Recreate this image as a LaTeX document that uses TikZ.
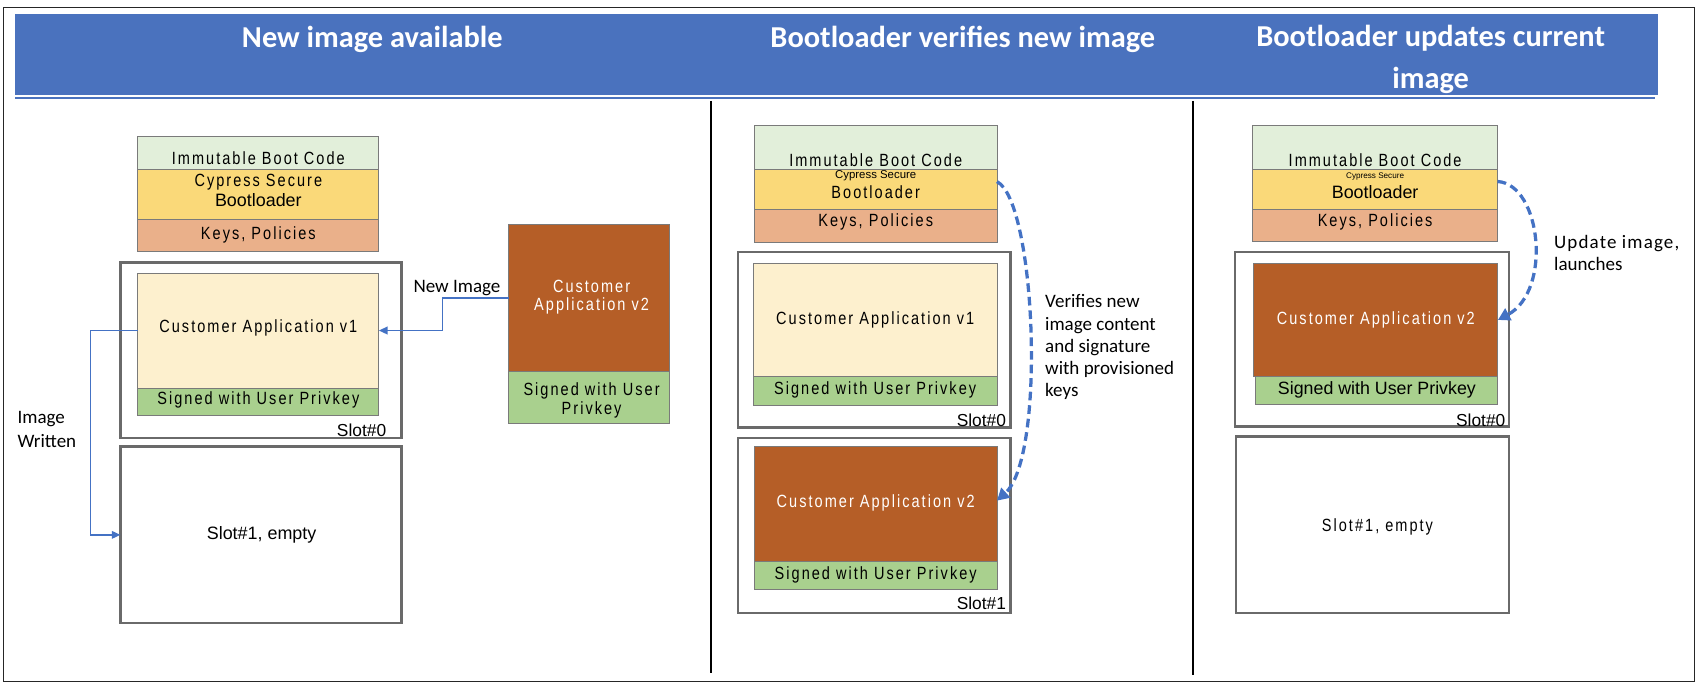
\documentclass[tikz,border=0pt]{standalone}
\usepackage{fontspec}
\usetikzlibrary{arrows.meta}
\newfontfamily\arnsp[FakeStretch=0.82,LetterSpace=11.5]{Liberation Sans}
\newfontfamily\arial{Liberation Sans}
\newfontfamily\calib{Carlito}
\newfontfamily\calibsp[LetterSpace=6]{Carlito}
\newcommand\fsz[2]{\fontsize{#1}{#2}\selectfont}
\newcommand\mybox[7]{\node[#6, minimum width={(#4-#2)*1pt}, minimum height={(#5-#3)*1pt}] (#1) at ({(#2+#4)/2},{(#3+#5)/2}) {#7};}
\definecolor{hblue}{HTML}{4A72BE}
\definecolor{cgreen}{HTML}{E2EFDA}
\definecolor{cyellow}{HTML}{FAD979}
\definecolor{csalmon}{HTML}{EAB08A}
\definecolor{ccream}{HTML}{FDF0CE}
\definecolor{csgreen}{HTML}{A9D08E}
\definecolor{crust}{HTML}{B55E27}
\definecolor{boxgray}{HTML}{7A7A7A}
\definecolor{slotgray}{HTML}{6A6A6A}
\definecolor{arrblue}{HTML}{4472C4}
\tikzset{
  bx/.style={draw=boxgray, line width=0.9pt, inner sep=0pt, outer sep=0pt},
  slotbx/.style={draw=slotgray, line width=2.2pt, inner sep=0pt, outer sep=0pt},
  txt/.style={inner sep=0pt, font=\arnsp\fsz{16.3}{19}},
  slotlbl/.style={inner sep=0pt, anchor=east, font=\arial\fsz{16}{19}},
  calbl/.style={inner sep=0pt, font=\calib\fsz{17.5}{20.5}, align=left},
  htxt/.style={inner sep=0pt, text=white, font=\calib\bfseries\fsz{28}{39}, align=center},
  barrow/.style={draw=arrblue, line width=1.5pt, -{Triangle[length=8pt,width=7pt]}},
  dasharrow/.style={draw=arrblue, line width=3pt, dash pattern=on 8pt off 4.5pt, -{Triangle[length=11pt,width=12pt]}}
}
\begin{document}
\begin{tikzpicture}[x=1pt,y=-1pt]
\useasboundingbox (0,0) rectangle (1568,634);
% frame and header
\draw[line width=1pt, black!85] (3,7) rectangle (1561,628);
\mybox{hdr}{14}{13}{1527}{87.5}{fill=hblue, inner sep=0pt}{}
\draw[hblue, line width=2pt] (14,90.6) -- (1525,90.6);
\node[htxt] (h1) at (343,36) {New image available};
\node[htxt] (h2) at (887,36) {Bootloader verifies new image};
\node[htxt] (h3) at (1318,55) {Bootloader updates current\\image};
\draw[line width=2.6pt] (655,93) -- (655,620);
\draw[line width=2.6pt] (1099,93) -- (1099,622);

% ---------- column 1
\mybox{imm1}{127}{125.5}{349}{156}{bx, fill=cgreen}{}
\node[txt] (imm1t) at (238,145.5) {Immutable Boot Code};
\mybox{boot1}{127}{156}{349}{202}{bx, fill=cyellow}{}
\node[txt] (boot1a) at (238,168) {Cypress Secure};
\node[txt, font=\arial\fsz{16.5}{19}] (boot1b) at (238,184.5) {Bootloader};
\mybox{keys1}{127}{202}{349}{232}{bx, fill=csalmon}{}
\node[txt] (keys1t) at (238,216) {Keys, Policies};
\mybox{slot0a}{111}{242}{370}{403.5}{slotbx}{}
\mybox{ca1a}{127}{251.5}{349}{357.5}{bx, fill=ccream}{}
\node[txt] (ca1at) at (238,302.5) {Customer Application v1};
\mybox{sig1a}{127}{357.5}{349}{382.5}{bx, fill=csgreen}{}
\node[txt] (sig1at) at (238,368.5) {Signed with User Privkey};
\node[slotlbl] (s0a) at (356,396) {Slot\#0};
\mybox{slot1a}{111}{411.5}{370}{574}{slotbx}{}
\node[txt, font=\arial\fsz{16.5}{19}] (s1a) at (241,493) {Slot\#1, empty};
\mybox{ca2f}{468.5}{206.5}{616.5}{342.5}{bx, fill=crust}{}
\node[txt, text=white, align=center, font=\arnsp\fsz{16.3}{17}] (ca2ft) at (545,274) {Customer\\Application v2};
\mybox{sig2f}{468.5}{342.5}{616.5}{390}{bx, fill=csgreen}{}
\node[txt, align=center, font=\arnsp\fsz{16.3}{17.5}] (sig2ft) at (545,369) {Signed with User\\Privkey};
\draw[barrow] (ca2f.west) -- (407.5,274.5) |- (ca1a.east);
\node[calbl] (nil) at (421,265.5) {New Image};
\draw[barrow] (ca1a.west) -- ++(-43.5,0) |- (slot1a.west);
\node[calbl, anchor=west, font=\calib\fsz{17.5}{22}] (iwl) at (16,396) {Image\\Written};

% ---------- column 2
\mybox{imm2}{695}{116}{918.5}{155.7}{bx, fill=cgreen}{}
\node[txt] (imm2t) at (806.75,147.4) {Immutable Boot Code};
\mybox{boot2}{695}{155.7}{918.5}{193}{bx, fill=cyellow}{}
\node[txt, font=\arial\fsz{10.5}{12}] (boot2a) at (806.75,161.8) {Cypress Secure};
\node[txt] (boot2b) at (806.75,176.6) {Bootloader};
\mybox{keys2}{695}{193}{918.5}{223.5}{bx, fill=csalmon}{}
\node[txt] (keys2t) at (806.75,204.5) {Keys, Policies};
\mybox{slot0b}{680}{232}{931}{394}{slotbx}{}
\mybox{ca1b}{694}{242.5}{918.5}{347}{bx, fill=ccream}{}
\node[txt] (ca1bt) at (806.25,294.8) {Customer Application v1};
\mybox{sig1b}{694}{347}{918.5}{373.7}{bx, fill=csgreen}{}
\node[txt] (sig1bt) at (806.25,359.5) {Signed with User Privkey};
\node[slotlbl] (s0b) at (927,387) {Slot\#0};
\mybox{slot1b}{680}{403.6}{931}{565}{slotbx}{}
\mybox{ca2b}{695}{411}{918.5}{517.4}{bx, fill=crust}{}
\node[txt, text=white] (ca2bt) at (806.75,463.7) {Customer Application v2};
\mybox{sig2b}{695}{517.4}{918.5}{543.5}{bx, fill=csgreen}{}
\node[txt] (sig2bt) at (806.75,529.5) {Signed with User Privkey};
\node[slotlbl] (s1b) at (927,555.6) {Slot\#1};
\draw[dasharrow] ([yshift=7pt]boot2.east) .. controls (954,185) and (964,420) .. ([yshift=3pt]ca2b.east);
\node[calbl, anchor=west] (ver) at (962.7,320) {Verifies new\\image content\\and signature\\with provisioned\\keys};

% ---------- column 3
\mybox{imm3}{1154}{116}{1379.7}{155.7}{bx, fill=cgreen}{}
\node[txt] (imm3t) at (1266.85,147.4) {Immutable Boot Code};
\mybox{boot3}{1154}{155.7}{1379.7}{192.7}{bx, fill=cyellow}{}
\node[txt, font=\arial\fsz{7.5}{9}] (boot3a) at (1266.85,163) {Cypress Secure};
\node[txt, font=\arial\fsz{16.5}{19}] (boot3b) at (1266.85,177) {Bootloader};
\mybox{keys3}{1154}{192.7}{1379.7}{222.6}{bx, fill=csalmon}{}
\node[txt] (keys3t) at (1266.85,204.5) {Keys, Policies};
\mybox{slot0c}{1137.7}{232}{1390}{393}{slotbx}{}
\mybox{ca2c}{1155}{242.5}{1380}{347}{bx, fill=crust}{}
\node[txt, text=white] (ca2ct) at (1267.5,294.8) {Customer Application v2};
\mybox{sig3}{1157}{347}{1380}{373}{bx, fill=csgreen}{}
\node[txt, font=\arial\fsz{16.4}{19}] (sig3t) at (1268.5,359.5) {Signed with User Privkey};
\node[slotlbl] (s0c) at (1387,387) {Slot\#0};
\mybox{slot1c}{1138.6}{402}{1390}{565}{slotbx}{}
\node[txt] (s1c) at (1269,485) {Slot\#1, empty};
\draw[dasharrow] ([yshift=7pt]boot3.east) .. controls (1420,170) and (1430,268) .. (ca2c.east);
\node[calbl, anchor=west, font=\calib\fsz{17.5}{19.5}] (upd) at (1431.6,233) {{\calibsp Update image,}\\launches};
\end{tikzpicture}
\end{document}
